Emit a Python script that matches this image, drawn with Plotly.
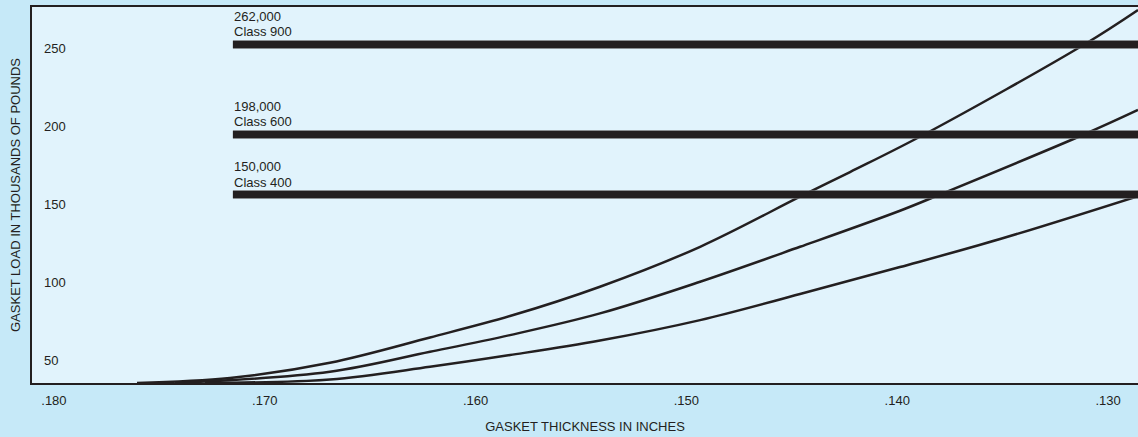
import plotly.graph_objects as go

# thickness (in) vs gasket load (thousands of lb)
curve_a_x = [0.17606, 0.17165, 0.16691, 0.16216, 0.15837, 0.15410, 0.14935, 0.14461, 0.14224, 0.13868, 0.13109, 0.12858]
curve_a_y = [35.3, 38.5, 48.3, 64.5, 78.2, 97.0, 122.6, 154.7, 170.5, 194.9, 252.6, 274.4]

curve_b_x = [0.17426, 0.16691, 0.16216, 0.15837, 0.15410, 0.14935, 0.14461, 0.13987, 0.13797, 0.13109, 0.12858]
curve_b_y = [35.3, 42.5, 55.3, 66.0, 79.9, 100.2, 122.6, 145.7, 156.1, 194.9, 210.3]

curve_c_x = [0.17284, 0.16691, 0.16216, 0.15837, 0.15410, 0.14935, 0.14461, 0.13987, 0.13512, 0.12858]
curve_c_y = [35.3, 37.6, 45.7, 53.2, 62.5, 75.6, 92.3, 109.6, 127.6, 155.1]

class_names = ["Class 900", "Class 600", "Class 400"]
class_loads = ["262,000", "198,000", "150,000"]
class_levels = [252.3, 194.6, 156.1]
bar_start = 0.17151
bar_end = 0.1280

x_ticks = [0.180, 0.170, 0.160, 0.150, 0.140, 0.130]
x_tick_text = [".180", ".170", ".160", ".150", ".140", ".130"]
y_ticks = [50, 100, 150, 200, 250]

ink = "#231f20"
font = dict(family="Liberation Sans, Arial, sans-serif", size=13, color=ink)

fig = go.Figure()

for xs, ys in [(curve_a_x, curve_a_y), (curve_b_x, curve_b_y), (curve_c_x, curve_c_y)]:
    fig.add_trace(go.Scatter(
        x=xs, y=ys, mode="lines",
        line=dict(color=ink, width=2.5, shape="spline", smoothing=1.0),
        hoverinfo="skip", showlegend=False,
    ))

for name, load, level in zip(class_names, class_loads, class_levels):
    # grey edge under the black bar
    fig.add_trace(go.Scatter(
        x=[bar_start, bar_end], y=[level, level], mode="lines",
        line=dict(color="#6d6e70", width=8.5),
        hoverinfo="skip", showlegend=False,
    ))
    fig.add_trace(go.Scatter(
        x=[bar_start, bar_end], y=[level, level], mode="lines",
        line=dict(color=ink, width=7),
        hoverinfo="skip", showlegend=False,
    ))
    fig.add_annotation(x=bar_start, y=level, text=name, xanchor="left", yanchor="middle",
                       showarrow=False, yshift=12.5, xshift=-1, font=font)
    fig.add_annotation(x=bar_start, y=level, text=load, xanchor="left", yanchor="middle",
                       showarrow=False, yshift=28, xshift=-1, font=font)

# y tick labels sit inside the plot, left aligned
for v in y_ticks:
    fig.add_annotation(x=0, xref="paper", y=v, yref="y", text=str(v), xanchor="left",
                       yanchor="middle", showarrow=False, xshift=10, font=font)

fig.update_layout(
    width=1138, height=437,
    margin=dict(l=32, r=0, t=7, b=54),
    paper_bgcolor="#c6e9f8",
    plot_bgcolor="#e1f3fc",
    font=font,
    showlegend=False,
    xaxis=dict(
        range=[0.18104, 0.12858], automargin=False,
        tickvals=x_ticks, ticktext=x_tick_text,
        showgrid=False, zeroline=False,
        showline=True, linecolor=ink, linewidth=1.5, mirror=True,
        ticks="", ticklabelstandoff=5,
        title=dict(text="GASKET THICKNESS IN INCHES", standoff=15, font=font),
    ),
    yaxis=dict(
        range=[35.3, 276.3], automargin=False,
        tickvals=y_ticks, showticklabels=False,
        showgrid=False, zeroline=False,
        showline=True, linecolor=ink, linewidth=1.5,
        ticks="",
        title=dict(text="GASKET LOAD IN THOUSANDS OF POUNDS", standoff=7, font=font),
    ),
)

# drop the page's default body margin so the figure sits at the window corner
fig.write_html("out.html", config={"displayModeBar": False},
               post_script="document.body.style.margin='0';")
